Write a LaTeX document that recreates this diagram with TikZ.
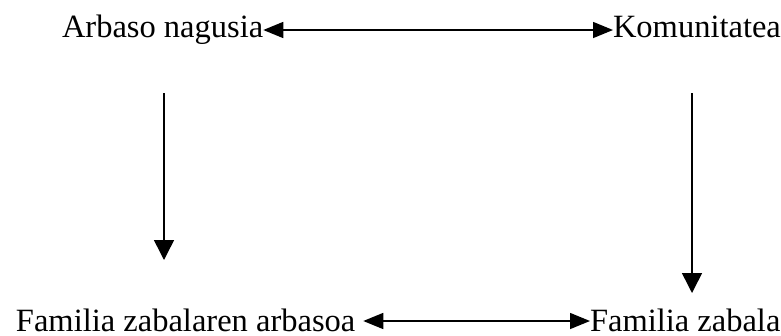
\documentclass[tikz,border=0pt]{standalone}
\usepackage{fontspec}
\setmainfont{Liberation Serif}
\usetikzlibrary{arrows.meta}
\begin{document}
\begin{tikzpicture}[x=1pt,y=-1pt,
  lbl/.style={inner sep=0pt,outer sep=0pt,font=\fontsize{32.5}{39}\selectfont},
  conn/.style={line width=1.5pt,{Triangle[length=20pt,width=16pt]}-{Triangle[length=20pt,width=16pt]}},
  down/.style={line width=1.5pt,-{Triangle[length=20pt,width=20pt]}}]
\useasboundingbox (0,0) rectangle (781,335);
\node[lbl,anchor=base west] (arb) at (62,37) {Arbaso nagusia};
\node[lbl,anchor=base west] (kom) at (613,37) {Komunitatea};
\node[lbl,anchor=base west] (fza) at (16,331) {Familia zabalaren arbasoa};
\node[lbl,anchor=base west] (fz) at (590,331) {Familia zabala};
\coordinate (l1) at (164,93);
\coordinate (l2) at (164,260);
\coordinate (r1) at (692,93);
\coordinate (r2) at (692,293);
\draw[conn] ([yshift=7pt]arb.base east) -- ([yshift=7pt]kom.base west);
\draw[conn,shorten <=8pt] ([yshift=10pt]fza.base east) -- ([yshift=10pt]fz.base west);
\draw[down] (l1) -- (l2);
\draw[down] (r1) -- (r2);
\end{tikzpicture}
\end{document}
